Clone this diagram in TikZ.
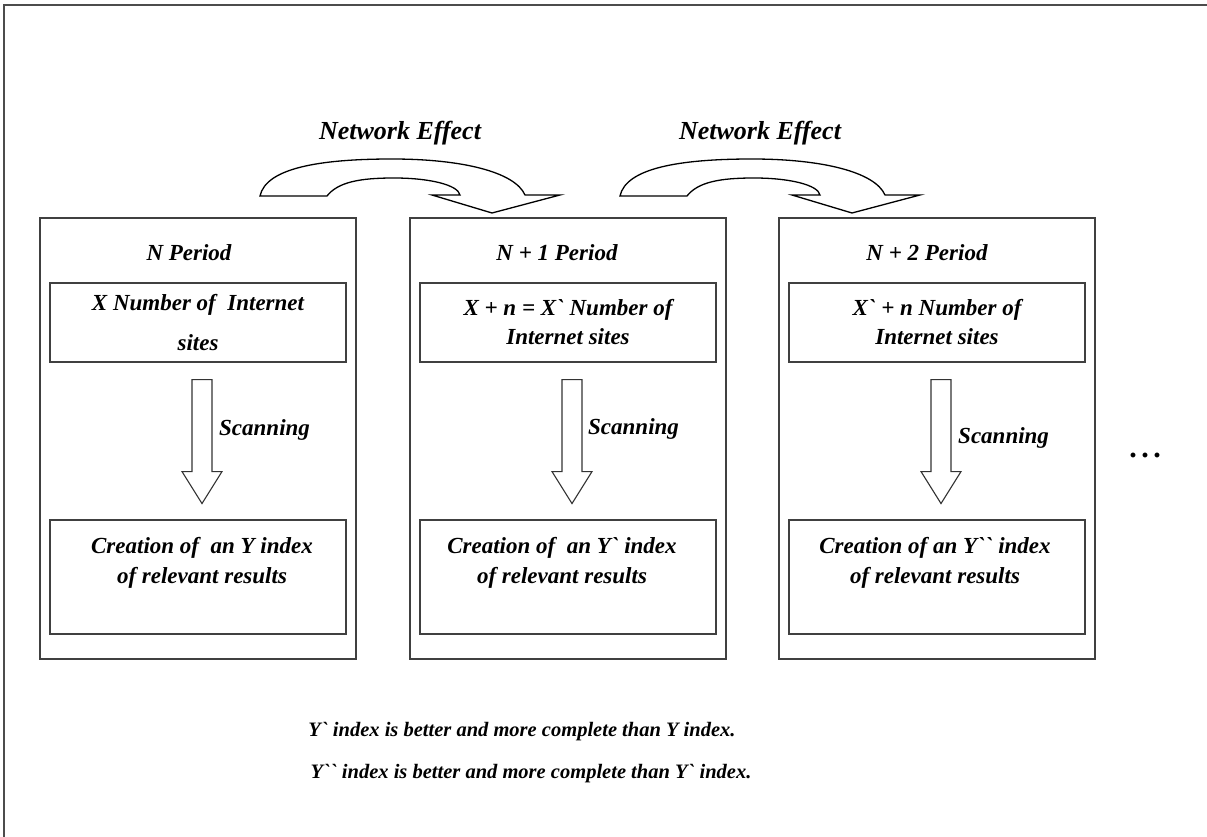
\documentclass[tikz,border=0pt]{standalone}
\usepackage{fontspec}
\setmainfont{Liberation Serif}[Ligatures=TeXOff]
\usetikzlibrary{positioning,calc}
\newcommand{\figfont}{\fontsize{23}{29}\selectfont\bfseries\itshape}
\newcommand{\effectfont}{\fontsize{26}{30}\selectfont\bfseries\itshape}
\newcommand{\notefont}{\fontsize{20.5}{25}\selectfont\bfseries\itshape}
\tikzset{
    frame/.style = {
        draw=black!70,
        line width=1.4pt
    },
    period/.style = {
        draw=black!75,
        shape=rectangle,
        minimum width=316pt,
        minimum height=441pt,
        line width=1.1pt
    },
    sites/.style = {
        draw=black!75,
        shape=rectangle,
        minimum width=296pt,
        minimum height=79pt,
        line width=1.1pt,
        align=center,
        font=\figfont
    },
    results/.style = {
        draw=black!75,
        shape=rectangle,
        minimum width=296pt,
        minimum height=114pt,
        line width=1.1pt
    },
    plain/.style = {
        font=\figfont,
        inner sep=0pt,
        align=center
    },
    scanarrow/.style = {
        draw=black!80,
        fill=white,
        line width=1.1pt,
        line join=miter
    },
    effect/.style = {
        draw=black,
        fill=white,
        line width=1.3pt
    }
}

\begin{document}
\begin{tikzpicture}[x=1pt, y=-1pt]
    \useasboundingbox (0,0) rectangle (1207,837);
    \draw[frame] (1207,5) -- (4,5) -- (4,837);

    % the three periods
    \node[period] (per1) at (198,438.5) {};
    \node[period] (per2) at (568,438.5) {};
    \node[period] (per3) at (937,438.5) {};

    \node[plain] (title1) at (189,253) {N Period};
    \node[plain] (title2) at (557,253) {N + 1 Period};
    \node[plain] (title3) at (927,253) {N + 2 Period};

    \node[sites] (sites1) at (198,322.5) {X Number of\ \ Internet\\[11pt]sites};
    \node[sites] (sites2) at (568,322.5) {X + n = X` Number of\\Internet sites};
    \node[sites] (sites3) at (937,322.5) {X` + n Number of\\Internet sites};

    \node[results] (res1) at (198,577) {};
    \node[results] (res2) at (568,577) {};
    \node[results] (res3) at (937,577) {};

    \node[plain] (restext1) at (202,563) {Creation of\ \ an Y index\\[1pt]of relevant results};
    \node[plain] (restext2) at (562,563) {Creation of\ \ an Y` index\\[1pt]of relevant results};
    \node[plain] (restext3) at (935,563) {Creation of an Y`` index\\[1pt]of relevant results};

    % scanning arrows
    \foreach \i in {1,2,3} {
        \path[scanarrow] ($(sites\i.south)+(-6,17)$) -- ++(0,92) -- ++(-10,0)
            -- ++(20,32) -- ++(20,-32) -- ++(-10,0) -- ++(0,-92) -- cycle;
    }
    \node[plain, anchor=west] (scan1) at (219,430) {Scanning};
    \node[plain, anchor=west] (scan2) at (588,429) {Scanning};
    \node[plain, anchor=west] (scan3) at (958,438) {Scanning};

    % network effect
    \foreach \s in {0,360} {
        \begin{scope}[xshift=\s]
            \path[effect] (260,196) -- (327,196)
                .. controls (338,182) and (360,178) .. (394,178)
                .. controls (430,178) and (458,185) .. (460,195)
                -- (432,195) -- (492,213) -- (560,195) -- (525,195)
                .. controls (515,172) and (462,159) .. (392,159)
                .. controls (320,159) and (266,168) .. (260,196) -- cycle;
        \end{scope}
    }
    \node[plain, font=\effectfont] (effect1) at (400,133) {Network Effect};
    \node[plain, font=\effectfont] (effect2) at (760,133) {Network Effect};

    \node[plain, font=\fontsize{30}{30}\selectfont\bfseries] (more) at (1145,455) {.\hspace{4.5pt}.\hspace{4.5pt}.};

    \node[plain, font=\notefont] (note1) at (522,732) {Y` index is better and more complete than Y index.};
    \node[plain, font=\notefont] (note2) at (531,774) {Y`` index is better and more complete than Y` index.};
\end{tikzpicture}
\end{document}
